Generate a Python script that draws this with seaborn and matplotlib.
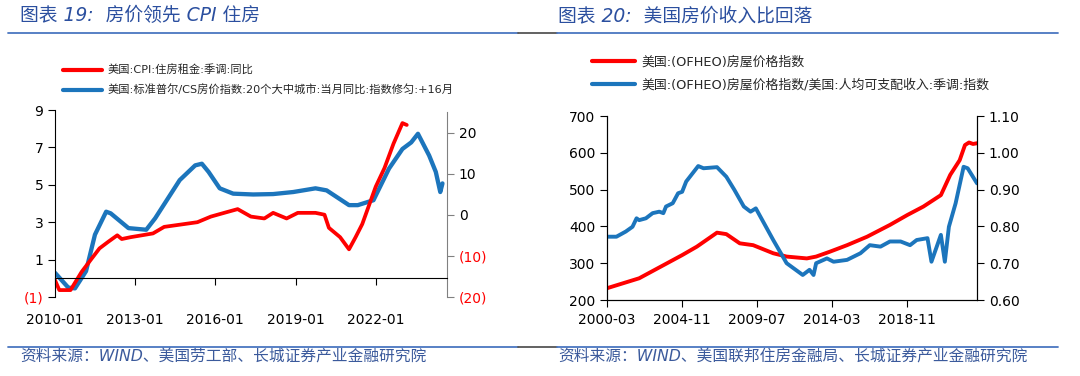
import numpy as np
import pandas as pd
import matplotlib
matplotlib.use("Agg")
import matplotlib.pyplot as plt
import matplotlib.dates as mdates
from matplotlib.lines import Line2D
import seaborn as sns

# ---------------------------------------------------------------- data
# figure 19: CPI housing rent yoy (left axis) vs Case-Shiller 20 city yoy, +16m (right axis)
cpi_dates = ["2010-01", "2010-03", "2010-08", "2011-01", "2011-05", "2011-09",
             "2012-01", "2012-05", "2012-07", "2012-11", "2013-09", "2014-02",
             "2014-11", "2015-05", "2015-11", "2016-05", "2016-11", "2017-05",
             "2017-11", "2018-03", "2018-09", "2019-02", "2019-10", "2020-02",
             "2020-04", "2020-09", "2021-01", "2021-04", "2021-07", "2022-01",
             "2022-05", "2022-09", "2023-01", "2023-03"]
cpi_rent = [-0.1, -0.63, -0.63, 0.35, 0.97, 1.6,
            1.96, 2.3, 2.1, 2.2, 2.4, 2.75,
            2.9, 3.0, 3.3, 3.5, 3.7, 3.3,
            3.2, 3.5, 3.2, 3.5, 3.5, 3.4,
            2.7, 2.2, 1.55, 2.2, 2.9, 4.9,
            5.9, 7.2, 8.3, 8.2]

cs_dates = ["2010-01", "2010-07", "2010-10", "2011-03", "2011-07", "2011-12",
            "2012-02", "2012-10", "2013-06", "2013-10", "2014-09", "2015-04",
            "2015-07", "2015-10", "2016-03", "2016-09", "2017-06", "2018-03",
            "2018-12", "2019-10", "2020-03", "2021-01", "2021-05", "2021-12",
            "2022-07", "2023-01", "2023-05", "2023-08", "2024-01", "2024-04",
            "2024-06", "2024-07"]
cs_yoy = [-14.1, -17.7, -17.9, -13.7, -4.8, 0.8,
          0.4, -3.2, -3.6, -0.8, 8.5, 12.1,
          12.5, 10.5, 6.5, 5.2, 5.0, 5.1,
          5.6, 6.5, 6.0, 2.4, 2.4, 3.6,
          11.3, 16.1, 17.7, 19.8, 14.5, 10.5,
          5.6, 7.7]

# figure 20: OFHEO house price index (left) and HPI / disposable income (right)
hpi_dates = ["2000-03", "2002-03", "2004-11", "2005-10", "2007-01", "2007-08",
             "2008-06", "2009-04", "2010-07", "2011-05", "2012-08", "2013-03",
             "2014-01", "2015-02", "2016-05", "2017-10", "2018-11", "2019-11",
             "2020-12", "2021-07", "2022-02", "2022-06", "2022-09", "2022-12",
             "2023-03"]
hpi = [232, 259, 322, 345, 383, 379,
       354, 349, 327, 318, 313, 318,
       331, 349, 372, 404, 431, 454,
       485, 540, 580, 621, 628, 624,
       626]

ratio_dates = ["2000-03", "2000-10", "2001-05", "2001-10", "2002-01", "2002-03",
               "2002-08", "2003-01", "2003-06", "2003-09", "2003-11", "2004-04",
               "2004-08", "2004-11", "2005-02", "2005-11", "2006-03", "2007-01",
               "2007-08", "2008-02", "2008-09", "2009-02", "2009-06", "2010-07",
               "2011-05", "2012-05", "2012-10", "2013-01", "2013-03", "2013-11",
               "2014-04", "2015-02", "2015-12", "2016-07", "2017-03", "2017-10",
               "2018-06", "2019-01", "2019-06", "2020-02", "2020-05", "2020-12",
               "2021-03", "2021-06", "2021-11", "2022-05", "2022-08", "2023-03"]
ratio = [0.772, 0.772, 0.786, 0.799, 0.822, 0.817,
         0.822, 0.836, 0.840, 0.836, 0.854, 0.863,
         0.890, 0.894, 0.922, 0.964, 0.958, 0.961,
         0.935, 0.899, 0.854, 0.840, 0.849, 0.763,
         0.700, 0.668, 0.682, 0.668, 0.700, 0.713,
         0.704, 0.709, 0.727, 0.749, 0.745, 0.759,
         0.759, 0.749, 0.763, 0.768, 0.704, 0.777,
         0.704, 0.799, 0.863, 0.962, 0.958, 0.917]

left_ticks = [-1, 1, 3, 5, 7, 9]
left_right_ticks = [-20, -10, 0, 10, 20]
left_xticks = ["2010-01", "2013-01", "2016-01", "2019-01", "2022-01"]
right_xticks = ["2000-03", "2004-11", "2009-07", "2014-03", "2018-11"]

RED = "#ff0000"
BLUE = "#1c75bc"
TITLE_C = "#2b4f9f"
CJK = ["DejaVu Sans", "Noto Sans CJK SC"]

sns.set_style("ticks")
plt.rcParams["font.family"] = CJK
plt.rcParams["axes.unicode_minus"] = False


def paren(v):
    return f"({abs(v)})" if v < 0 else f"{v}"


def main():
    fig = plt.figure(figsize=(10.8, 3.76), dpi=100)
    W, H = 1080, 376

    def box(x0, y0, x1, y1):
        return [x0 / W, 1 - y1 / H, (x1 - x0) / W, (y1 - y0) / H]

    # ------------------------------------------------- left chart
    ax = fig.add_axes(box(55, 110, 447, 297))
    ax2 = ax.twinx()
    cpi = pd.DataFrame({"date": pd.to_datetime(cpi_dates), "v": cpi_rent})
    cs = pd.DataFrame({"date": pd.to_datetime(cs_dates), "v": cs_yoy})
    sns.lineplot(data=cpi, x="date", y="v", ax=ax, color=RED, lw=2.7)
    sns.lineplot(data=cs, x="date", y="v", ax=ax2, color=BLUE, lw=3.1)
    ax.set_zorder(ax2.get_zorder() + 1)
    ax.patch.set_visible(False)

    ax.set_xlim(pd.Timestamp("2010-01-01"), pd.Timestamp("2024-09-01"))
    ax.set_ylim(-1, 9)
    ax2.set_ylim(-20, 25.6)
    ax.set_xticks(pd.to_datetime(left_xticks))
    ax.xaxis.set_major_formatter(mdates.DateFormatter("%Y-%m"))
    ax.set_yticks(left_ticks)
    ax.set_yticklabels([paren(v) for v in left_ticks])
    ax2.set_yticks(left_right_ticks)
    ax2.set_yticklabels([paren(v) for v in left_right_ticks])

    for a in (ax, ax2):
        a.set_xlabel("")
        a.set_ylabel("")
        a.spines["top"].set_visible(False)
    ax.spines["right"].set_visible(False)
    ax2.spines["left"].set_visible(False)
    ax2.spines["bottom"].set_visible(False)
    ax2.spines["right"].set_color("#808080")
    ax2.spines["right"].set_bounds(-20, 25.2)
    ax.spines["bottom"].set_position(("data", 0))
    ax.spines["bottom"].set_color("black")
    ax.spines["left"].set_color("black")
    ax.tick_params(axis="x", direction="out", length=5, pad=20, labelsize=10, colors="black")
    ax.tick_params(axis="y", direction="out", length=5, labelsize=10, colors="black")
    ax2.tick_params(axis="y", direction="out", length=5, labelsize=10, color="#808080")
    for lab, v in zip(ax.get_yticklabels(), left_ticks):
        lab.set_color(RED if v < 0 else "black")
    for lab, v in zip(ax2.get_yticklabels(), left_right_ticks):
        lab.set_color(RED if v < 0 else "black")

    fig.legend([Line2D([], [], color=RED, lw=3), Line2D([], [], color=BLUE, lw=3)],
               ["美国:CPI:住房租金:季调:同比",
                "美国:标准普尔/CS房价指数:20个大中城市:当月同比:指数修匀:+16月"],
               loc="upper left", bbox_to_anchor=(63 / W, 1 - 65 / H),
               frameon=False, fontsize=8.1, handlelength=3.5, handletextpad=0.5,
               labelspacing=0.75, borderpad=0, borderaxespad=0)

    # ------------------------------------------------- right chart
    bx = fig.add_axes(box(607, 116, 977, 300))
    bx2 = bx.twinx()
    hp = pd.DataFrame({"date": pd.to_datetime(hpi_dates), "v": hpi})
    rt = pd.DataFrame({"date": pd.to_datetime(ratio_dates), "v": ratio})
    sns.lineplot(data=hp, x="date", y="v", ax=bx, color=RED, lw=2.8)
    sns.lineplot(data=rt, x="date", y="v", ax=bx2, color=BLUE, lw=2.8)

    bx.set_xlim(pd.Timestamp("2000-03-01"), pd.Timestamp("2023-03-01"))
    bx.set_ylim(200, 700)
    bx2.set_ylim(0.6, 1.1)
    bx.set_xticks(pd.to_datetime(right_xticks))
    bx.xaxis.set_major_formatter(mdates.DateFormatter("%Y-%m"))
    bx.set_yticks(np.arange(200, 701, 100))
    bx2.set_yticks(np.arange(0.6, 1.101, 0.1))
    bx2.yaxis.set_major_formatter(matplotlib.ticker.FormatStrFormatter("%.2f"))
    for a in (bx, bx2):
        a.set_xlabel("")
        a.set_ylabel("")
        a.spines["top"].set_visible(False)
        for s in ("left", "right", "bottom"):
            a.spines[s].set_color("black")
        a.tick_params(direction="out", length=5, labelsize=10, colors="black")
    bx.tick_params(axis="x", pad=4)

    fig.legend([Line2D([], [], color=RED, lw=3), Line2D([], [], color=BLUE, lw=3)],
               ["美国:(OFHEO)房屋价格指数",
                "美国:(OFHEO)房屋价格指数/美国:人均可支配收入:季调:指数"],
               loc="upper left", bbox_to_anchor=(592 / W, 1 - 56 / H),
               frameon=False, fontsize=9.3, handlelength=3.3, handletextpad=0.5,
               labelspacing=0.7, borderpad=0, borderaxespad=0)

    # ------------------------------------------------- titles, rules, sources
    tkw = dict(color=TITLE_C, fontsize=13.5, style="italic", va="center", ha="left")
    fig.text(20 / W, 1 - 16 / H, "图表 19:  房价领先 CPI 住房", **tkw)
    fig.text(558 / W, 1 - 16 / H, "图表 20:  美国房价收入比回落", **tkw)
    skw = dict(color="#3b5a9c", fontsize=11.3, style="italic", va="center", ha="left")
    fig.text(20 / W, 1 - 357 / H, "资料来源：WIND、美国劳工部、长城证券产业金融研究院", **skw)
    fig.text(558 / W, 1 - 357 / H, "资料来源：WIND、美国联邦住房金融局、长城证券产业金融研究院", **skw)

    for yy in (33, 347):
        for x0, x1, c in ((8, 518, "#4a76c0"), (518, 557, "#555555"), (557, 1058, "#4a76c0")):
            fig.add_artist(Line2D([x0 / W, x1 / W], [1 - yy / H, 1 - yy / H],
                                  transform=fig.transFigure, color=c, lw=1.3))

    fig.savefig("out.png", dpi=100)
    plt.close(fig)


if __name__ == "__main__":
    main()
